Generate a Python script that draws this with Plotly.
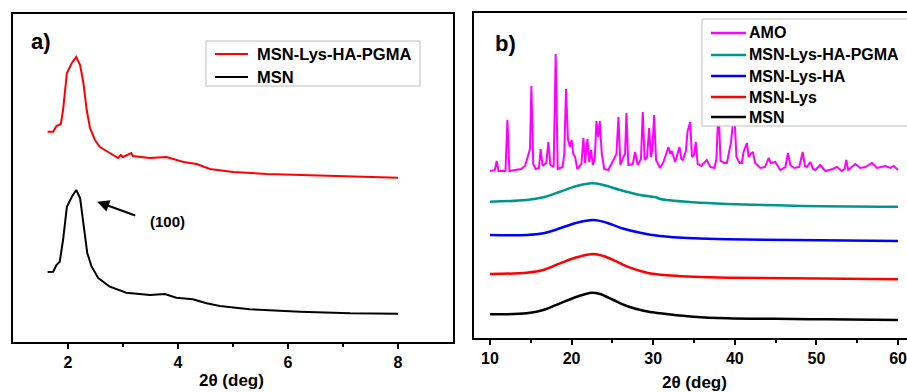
import plotly.graph_objects as go

W, H = 907, 392

# ---------------- Panel a data (low-angle XRD) ----------------
a_x_pgma = [1.63, 1.73, 1.79, 1.87, 1.91, 1.98, 2.07, 2.15, 2.22, 2.28, 2.34, 2.40, 2.49, 2.58,
            2.76, 2.91, 2.96, 3.00, 3.15, 3.18, 3.49, 3.79, 4.10, 4.34, 4.58, 5.00, 5.61, 6.22,
            7.13, 8.00]
a_y_pgma = [210.3, 210.3, 216, 218, 232, 269, 279, 285, 277, 259, 232, 214, 202, 195,
            189, 184, 187, 185, 189, 186, 184, 185, 180, 178, 173, 170, 168, 167,
            165.3, 164.3]
a_x_msn = [1.63, 1.73, 1.79, 1.85, 1.91, 1.98, 2.07, 2.15, 2.22, 2.29, 2.35, 2.43, 2.55, 2.76,
           3.06, 3.49, 3.76, 3.97, 4.27, 4.52, 4.76, 5.30, 6.22, 7.13, 8.00]
a_y_msn = [70, 70.3, 77, 80.3, 102, 135.3, 145.3, 152, 144, 115.3, 89, 75.3, 64, 55.3,
           49.3, 47, 48, 44.3, 42.7, 38.7, 36, 32.7, 30.3, 28.7, 28.3]
a_ticks = [2, 4, 6, 8]
a_minor = [3, 5, 7]
a_names = ["MSN-Lys-HA-PGMA", "MSN"]
a_colors = ["#ff0000", "#000000"]

# ---------------- Panel b data (wide-angle XRD) ----------------
b_x_amo = [10.0, 10.6, 10.82, 11.05, 11.9, 12.13, 12.38, 13.8, 14.3, 14.7, 14.9, 15.07, 15.3, 15.6,
           16.0, 16.21, 16.45, 16.9, 17.15, 17.4, 17.8, 18.05, 18.3, 18.9, 19.1, 19.32, 19.55,
           19.8, 20.0, 20.2, 20.43, 20.7, 21.2, 21.45, 21.65, 21.94, 22.15, 22.39, 22.6, 22.85,
           23.04, 23.25, 23.45, 23.7, 24.0, 24.5, 25.13, 25.5, 25.74, 25.98, 26.35, 26.55, 26.72,
           26.95, 27.5, 27.78, 28.1, 28.5, 28.72, 28.95, 29.25, 29.5, 29.72, 29.9, 30.11, 30.35,
           30.85, 31.2, 31.46, 31.87, 32.1, 32.28, 32.69, 33.0, 33.22, 33.45, 33.63, 34.0, 34.2,
           34.53, 34.75, 35.0, 35.22, 35.45, 35.9, 36.57, 37.0, 37.5, 37.75, 38.0, 38.25, 38.7,
           39.03, 39.52, 39.93, 40.2, 40.6, 40.87, 41.07, 41.48, 41.7, 41.95, 42.22, 42.5, 43.12,
           43.7, 44.14, 44.4, 44.96, 45.57, 46.2, 46.51, 46.8, 47.3, 47.9, 48.31, 48.6, 48.84,
           49.25, 49.6, 49.86, 50.47, 51.09, 52.0, 52.52, 53.13, 53.45, 53.66, 53.9, 54.77, 55.38,
           56.0, 56.81, 57.42, 58.45, 59.06, 59.47, 60.0]
b_y_amo = [168, 169, 178, 168, 168, 219, 168, 170, 173, 186, 190, 253, 175, 170,
           171, 190, 173, 176, 197, 174, 172, 285, 170, 172, 185, 250, 200,
           192, 199, 185, 182, 170, 175, 201, 176, 200, 177, 189, 174, 182,
           218, 202, 218, 185, 170, 169, 179, 185, 222, 174, 182, 185, 226,
           174, 175, 187, 174, 180, 227, 179, 182, 211, 182, 190, 224, 179,
           171, 176, 182, 192, 185, 188, 177, 185, 192, 180, 179, 188, 207,
           217, 182, 184, 197, 175, 173, 179, 172, 171, 180, 232, 178, 176,
           176, 196, 228, 182, 176, 176, 187, 196, 182, 185, 187, 176, 171,
           172, 181, 176, 177, 169, 172, 186, 174, 171, 172, 187, 173, 172,
           177, 170, 169, 174, 168, 170, 172, 168, 170, 179, 169, 175, 171,
           172, 176, 171, 173, 171, 173, 169]

b_x_pgma = [10.0, 14.5, 16.54, 18.59, 20.63, 22.47, 23.9, 25.95, 28.4, 30.5, 30.85, 34.94, 39.03, 47.2, 60.0]
b_y_pgma = [137.3, 139, 141.7, 147.3, 153, 155.7, 154, 149, 144, 141.3, 140, 136.7, 135, 133.3, 132.3]

b_x_ha = [10.0, 14.5, 16.54, 18.59, 20.63, 22.67, 24.31, 25.95, 28.4, 30.85, 34.94, 39.03, 47.2, 60.0]
b_y_ha = [104, 104, 105.7, 110.7, 116.3, 119, 116.3, 111.3, 106.3, 103, 100.7, 99.7, 99, 98]

b_x_lys = [10.0, 14.5, 16.54, 18.59, 20.63, 22.67, 23.9, 25.54, 27.17, 29.22, 31.67, 34.94, 39.03, 47.2, 60.0]
b_y_lys = [65, 66.3, 69, 75.7, 81.7, 85, 83, 77.3, 71.3, 66.3, 63.7, 62.3, 61.3, 60.7, 59.7]

b_x_msn = [10.0, 14.5, 16.54, 18.59, 20.63, 22.47, 23.49, 25.13, 26.76, 28.81, 30.85, 34.94, 39.03, 47.2, 51.29, 60.0]
b_y_msn = [24.7, 25.7, 29, 35.7, 42.3, 46.3, 45, 39, 33, 28.3, 25.7, 22.3, 20.7, 20, 19.7, 19]

b_ticks = [10, 20, 30, 40, 50, 60]
b_minor = [15, 25, 35, 45, 55]
b_names = ["AMO", "MSN-Lys-HA-PGMA", "MSN-Lys-HA", "MSN-Lys", "MSN"]
b_colors = ["#ff00ff", "#009690", "#0000ff", "#ff0000", "#000000"]

FONT = "Liberation Sans, Arial, sans-serif"

fig = go.Figure()

# panel a traces
fig.add_trace(go.Scatter(x=a_x_pgma, y=a_y_pgma, mode="lines", name=a_names[0],
                         line=dict(color=a_colors[0], width=2), xaxis="x", yaxis="y"))
fig.add_trace(go.Scatter(x=a_x_msn, y=a_y_msn, mode="lines", name=a_names[1],
                         line=dict(color=a_colors[1], width=2), xaxis="x", yaxis="y"))

# panel b traces
b_series = [(b_x_amo, b_y_amo, "linear", 2), (b_x_pgma, b_y_pgma, "spline", 2.5),
            (b_x_ha, b_y_ha, "spline", 2.5), (b_x_lys, b_y_lys, "spline", 2.5),
            (b_x_msn, b_y_msn, "spline", 2.5)]
for (xs, ys, shp, lw), nm, col in zip(b_series, b_names, b_colors):
    fig.add_trace(go.Scatter(x=xs, y=ys, mode="lines", name=nm, line_shape=shp,
                             line=dict(color=col, width=lw), xaxis="x2", yaxis="y2"))

tickfont = dict(family=FONT, size=16, color="black", weight="bold")


def xax(dom, rng, ticks, minor):
    return dict(domain=dom, range=rng, tickmode="array", tickvals=ticks, ticktext=[str(t) for t in ticks],
                ticks="outside", ticklen=5, tickwidth=2, tickcolor="black",
                minor=dict(tickmode="array", tickvals=minor, ticks="outside", ticklen=3, tickwidth=2,
                           tickcolor="black"),
                showline=True, linewidth=2, linecolor="black", mirror=True, ticklabeloverflow="allow",
                showgrid=False, zeroline=False, tickfont=tickfont, fixedrange=True)


def yax(dom, rng, mirror):
    return dict(domain=dom, range=rng, showticklabels=False, ticks="", showline=True, linewidth=2,
                linecolor="black", mirror=mirror, showgrid=False, zeroline=False, fixedrange=True)


fig.update_layout(
    width=W, height=H, margin=dict(l=0, r=0, t=0, b=0),
    paper_bgcolor="white", plot_bgcolor="white", showlegend=False,
    xaxis=dict(**xax([13 / W, 453 / W], [1, 9], a_ticks, a_minor), anchor="y"),
    yaxis=dict(**yax([1 - 342 / H, 1 - 14 / H], [0, 328], True), anchor="x"),
    xaxis2=dict(**xax([474 / W, 1.0], [8.04, 61.1], b_ticks, b_minor), anchor="y2"),
    yaxis2=dict(**yax([1 - 338 / H, 1 - 13 / H], [1, 326], False), anchor="x2"),
)

ann_font = dict(family=FONT, color="black", weight="bold")


def px(x):
    return x / W


def py(y):
    return 1 - y / H


# manual legends (box, sample line, label)
def add_legend(box, rows, names, colors, x0, x1, tx, fsize, lw):
    fig.add_shape(type="rect", xref="paper", yref="paper", x0=px(box[0]), x1=px(box[2]),
                  y0=py(box[3]), y1=py(box[1]), fillcolor="white", line=dict(color="#bdbdbd", width=1),
                  layer="above")
    for yy, nm, col in zip(rows, names, colors):
        fig.add_shape(type="line", xref="paper", yref="paper", x0=px(x0), x1=px(x1), y0=py(yy), y1=py(yy),
                      line=dict(color=col, width=lw), layer="above")
        fig.add_annotation(text=nm, xref="paper", yref="paper", x=px(tx), y=py(yy), xanchor="left",
                           yanchor="middle", showarrow=False, font=dict(size=fsize, **ann_font))


add_legend((206, 41, 420, 86), [54, 77], a_names, a_colors, 215, 248, 255, 16.5, 2)
add_legend((702, 19, 910, 126), [33, 55, 76, 97, 117], b_names, b_colors, 711, 746, 747, 16, 2.5)

fig.add_annotation(text="a)", xref="paper", yref="paper", x=px(29), y=py(42), xanchor="left",
                   yanchor="middle", showarrow=False, font=dict(size=22, **ann_font))
fig.add_annotation(text="b)", xref="paper", yref="paper", x=px(493), y=py(43), xanchor="left",
                   yanchor="middle", showarrow=False, font=dict(size=22, **ann_font))
fig.add_annotation(text="2θ (deg)", xref="paper", yref="paper", x=px(231), y=py(380),
                   xanchor="center", yanchor="middle", showarrow=False, font=dict(size=17, **ann_font))
fig.add_annotation(text="2θ (deg)", xref="paper", yref="paper", x=px(694.5), y=py(382),
                   xanchor="center", yanchor="middle", showarrow=False, font=dict(size=17, **ann_font))
# (100) arrow
fig.add_annotation(x=2.53, y=140.3, ax=3.25, ay=126, xref="x", yref="y", axref="x", ayref="y",
                   text="", showarrow=True, arrowhead=2, arrowsize=1.2, arrowwidth=2, arrowcolor="black")
fig.add_annotation(text="(100)", x=3.8, y=120.3, xref="x", yref="y", showarrow=False,
                   xanchor="center", yanchor="middle", font=dict(size=15, **ann_font))

fig.write_html("out.html", config={"displayModeBar": False},
               post_script="document.body.style.margin='0';document.body.style.overflow='hidden';")
